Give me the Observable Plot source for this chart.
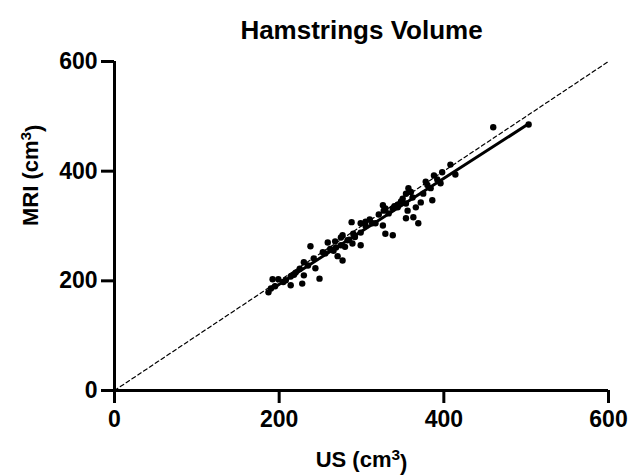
<!DOCTYPE html>
<html>
<head>
<meta charset="utf-8">
<script src="https://cdn.jsdelivr.net/npm/d3@7"></script>
<script src="https://cdn.jsdelivr.net/npm/@observablehq/plot@0.6"></script>
<style>
  html, body { margin: 0; padding: 0; background: #fff; }
  #chart { width: 630px; height: 476px; }
</style>
</head>
<body>
<div id="chart"></div>
<script>
const title = "Hamstrings Volume";
const xLabel = "US (cm³)";
const yLabel = "MRI (cm³)";
const tickValues = [0, 200, 400, 600];

// US volume (cm³)
const us = [187,190,192,195,199,205,208,214,214,218,220,225,228,230,230,235,238,242,244,249,
  253,256,259,262,266,268,269,271,275,275,277,277,280,283,285,288,289,290,292,299,
  299,299,305,305,310,313,317,321,326,326,327,329,329,333,338,338,340,344,344,348,
  350,354,354,354,356,357,360,362,363,366,369,372,375,378,380,384,386,388,392,396,
  398,408,414,460,503];
// MRI volume (cm³)
const mri = [179,186,203,190,203,198,201,192,208,211,215,222,195,210,234,228,263,241,223,204,
  252,250,270,258,255,272,261,245,265,279,237,283,262,274,275,307,268,286,280,265,
  288,305,300,308,312,305,305,321,301,338,328,286,332,323,283,332,336,334,339,345,
  350,314,341,359,328,369,362,352,316,334,305,343,359,381,375,369,347,392,385,378,
  398,412,394,480,485];

const data = us.map((x, i) => ({us: x, mri: mri[i]}));
const identity = [{v: 0}, {v: 600}];

const font = "'Liberation Sans', Arial, Helvetica, sans-serif";

const chart = Plot.plot({
  width: 630,
  height: 476,
  marginLeft: 114,
  marginRight: 22,
  marginTop: 61,
  marginBottom: 86,
  style: {fontFamily: font, background: "#fff", color: "#000", overflow: "visible"},
  x: {domain: [0, 600]},
  y: {domain: [0, 600]},
  marks: [
    Plot.line(identity, {x: "v", y: "v", stroke: "#000", strokeWidth: 1.2, strokeDasharray: "4,3"}),
    Plot.linearRegressionY(data, {x: "us", y: "mri", stroke: "#000", strokeWidth: 3, ci: 0}),
    Plot.dot(data, {x: "us", y: "mri", r: 3.2, fill: "#000", stroke: "none"}),
    Plot.ruleX([0], {stroke: "#000", strokeWidth: 3}),
    Plot.ruleY([0], {stroke: "#000", strokeWidth: 3}),
    Plot.axisX({ticks: tickValues, tickSize: 13, tickPadding: 7, strokeWidth: 3, fontSize: 23, fontWeight: "bold", label: null, tickFormat: d => String(d)}),
    Plot.axisY({ticks: tickValues, tickSize: 13, tickPadding: 4, strokeWidth: 3, fontSize: 23, fontWeight: "bold", label: null, tickFormat: d => String(d)}),
    Plot.text([title], {frameAnchor: "top", dy: -31, fontSize: 26, fontWeight: "bold", lineAnchor: "middle"}),
    Plot.text([xLabel], {frameAnchor: "bottom", dy: 69, fontSize: 22, fontWeight: "bold", lineAnchor: "middle"}),
    Plot.text([yLabel], {frameAnchor: "left", dx: -84, rotate: -90, fontSize: 22, fontWeight: "bold", lineAnchor: "middle"})
  ]
});
document.getElementById("chart").appendChild(chart);

// render "³" as a real superscript
d3.select(chart).selectAll("text").each(function () {
  const t = this.textContent;
  if (!t.includes("³")) return;
  const [before, after] = t.split("³");
  const sel = d3.select(this);
  const target = sel.select("tspan").empty() ? sel : sel.select("tspan");
  target.text(null);
  target.append("tspan").text(before);
  target.append("tspan").attr("dy", "-0.45em").attr("font-size", "0.7em").text("3");
  target.append("tspan").attr("dy", "0.45em").text(after);
});
</script>
</body>
</html>
